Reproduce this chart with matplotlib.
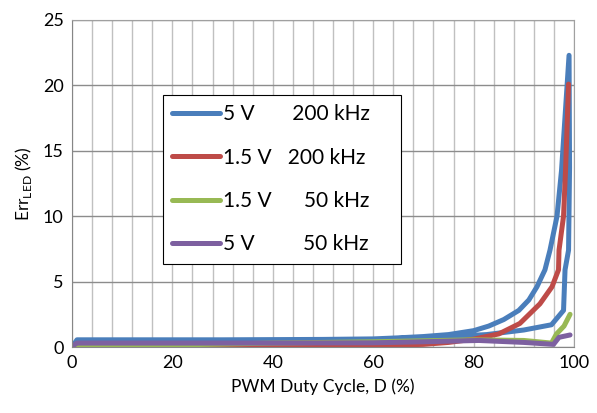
import matplotlib
matplotlib.use('Agg')
import matplotlib.pyplot as plt
from matplotlib.ticker import MultipleLocator

plt.rcParams['font.family'] = ['Lato', 'DejaVu Sans']

# 5 V, 200 kHz (trace runs out along the upper branch and back along the lower one)
x_5v_200k = [0, 1, 10, 30, 50, 60, 65, 70, 75, 80, 83, 86, 89, 91, 92.6, 94.2, 95.2, 96.6, 97.5, 99,
             99.1, 98.9, 98.2, 97.9, 95.5, 90, 82.6, 75, 65]
y_5v_200k = [0, 0.55, 0.55, 0.55, 0.58, 0.62, 0.7, 0.8, 0.95, 1.25, 1.6, 2.1, 2.8, 3.6, 4.6, 5.9, 7.4, 10, 13.5, 22.3,
             13.7, 7.4, 5.9, 2.8, 1.7, 1.3, 0.95, 0.8, 0.65]

# 1.5 V, 200 kHz
x_15v_200k = [1, 10, 30, 50, 60, 70, 75, 80, 85, 89.2, 93.2, 95.6, 96.9, 97.0, 97.9, 98.3, 98.9]
y_15v_200k = [0.25, 0.2, 0.12, 0.1, 0.12, 0.2, 0.35, 0.6, 1.0, 1.8, 3.3, 4.6, 5.9, 7.4, 10, 13.5, 20.1]

# 1.5 V, 50 kHz
x_15v_50k = [0, 20, 40, 60, 80, 90, 95.5, 96.5, 98, 99.2]
y_15v_50k = [0, 0.15, 0.3, 0.4, 0.55, 0.5, 0.3, 1.0, 1.6, 2.5]

# 5 V, 50 kHz
x_5v_50k = [0, 1, 20, 40, 60, 70, 81, 90, 95.9, 97, 99.2]
y_5v_50k = [0.05, 0.3, 0.3, 0.3, 0.32, 0.4, 0.5, 0.35, 0.2, 0.74, 0.92]

labels = ['5 V' + ' ' * 7 + '200 kHz    ', '1.5 V' + ' ' * 3 + '200 kHz    ',
          '1.5 V' + ' ' * 6 + '50 kHz', '5 V' + ' ' * 9 + '50 kHz']
colors = ['#4a7ebb', '#be4b48', '#98b954', '#7d60a0']


def main():
    fig = plt.figure(figsize=(5.97, 4.13), dpi=100)
    ax = fig.add_axes([0.1206, 0.1598, 0.841, 0.7918])

    series = [(x_5v_200k, y_5v_200k), (x_15v_200k, y_15v_200k),
              (x_15v_50k, y_15v_50k), (x_5v_50k, y_5v_50k)]
    for (xs, ys), lab, col in zip(series, labels, colors):
        ax.plot(xs, ys, color=col, lw=3.6, label=lab, solid_capstyle='round', solid_joinstyle='round')

    ax.set_xlim(0, 100)
    ax.set_ylim(0, 25)
    ax.xaxis.set_major_locator(MultipleLocator(20))
    ax.xaxis.set_minor_locator(MultipleLocator(4))
    ax.yaxis.set_major_locator(MultipleLocator(5))
    ax.grid(which='minor', axis='x', color='#c0c0c0', lw=1.0)
    ax.grid(which='major', axis='x', color='#c0c0c0', lw=1.0)
    ax.grid(which='major', axis='y', color='#8c8c8c', lw=1.0)
    ax.set_axisbelow(True)
    ax.tick_params(which='both', length=0, labelsize=13, pad=6)
    for s in ax.spines.values():
        s.set_color('#a0a0a0')
    ax.spines['left'].set_color('#868686')
    ax.spines['bottom'].set_color('#868686')

    ax.set_xlabel('PWM Duty Cycle, D (%)', fontsize=12.5, labelpad=5)
    ax.set_ylabel('Err$_{\\mathregular{LED}}$ (%)', fontsize=12.5, labelpad=6)

    leg = ax.legend(loc='upper left', bbox_to_anchor=(0.181, 0.771), borderaxespad=0, fontsize=15,
                    handlelength=2.3, labelspacing=1.12, handletextpad=0.15,
                    borderpad=0.45, fancybox=False, framealpha=1, edgecolor='black')
    leg.get_frame().set_linewidth(0.8)

    fig.savefig('out.png', dpi=100)


if __name__ == '__main__':
    main()
